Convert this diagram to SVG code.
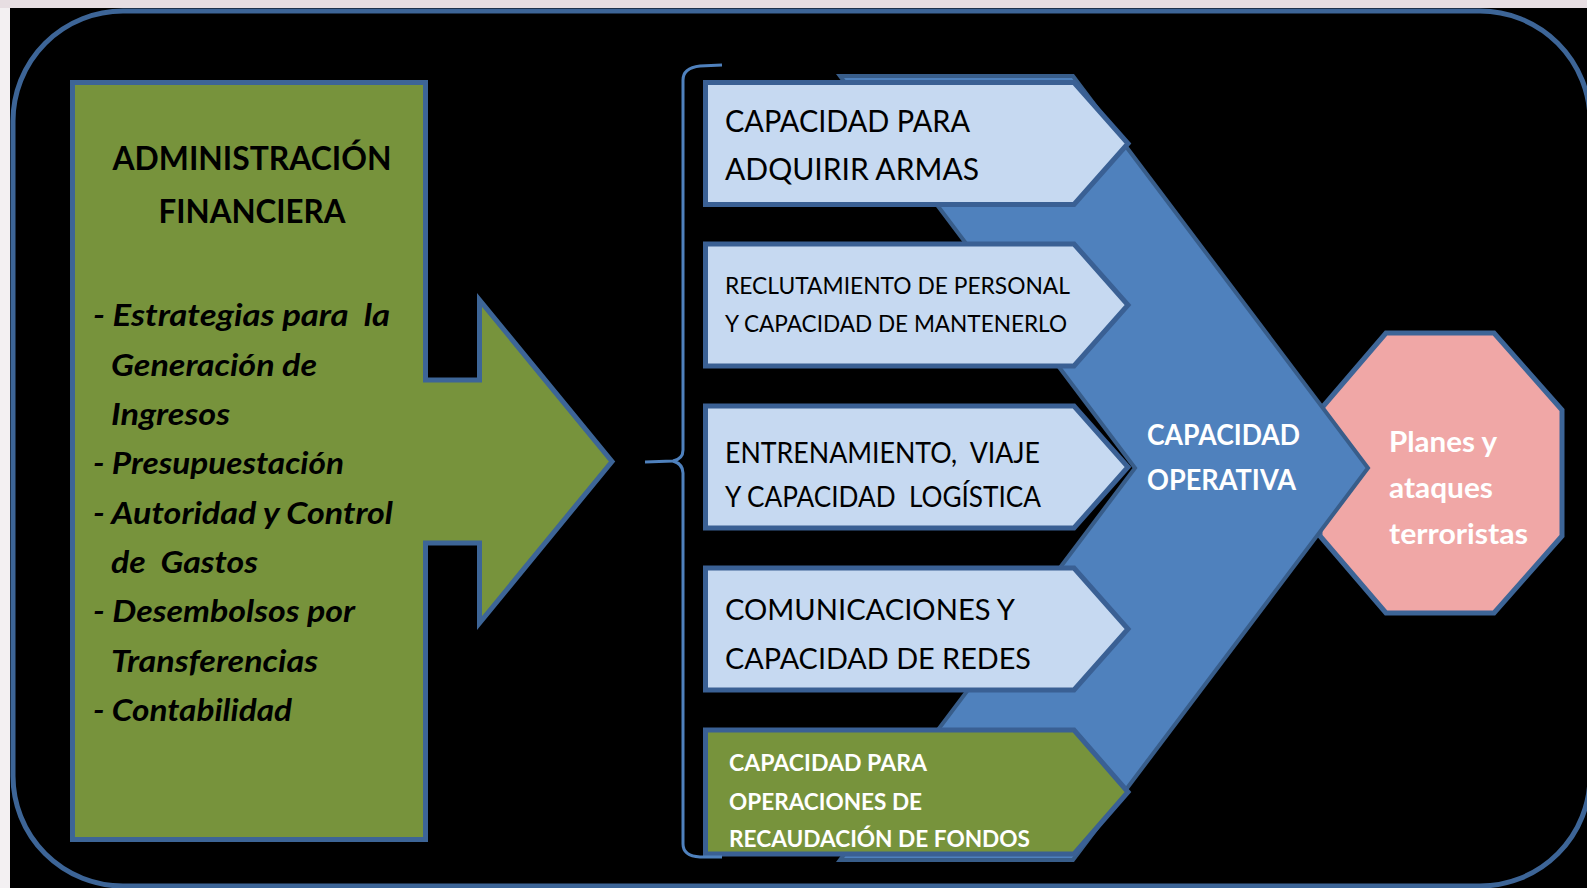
<svg xmlns="http://www.w3.org/2000/svg" width="1587" height="888" viewBox="0 0 1587 888">
<style>
.t{font-family:Lato,"Open Sans","Liberation Sans",sans-serif}
.dark{fill:#000}
.white{fill:#fff}
.pent{fill:#c6d9f1;stroke:#3a6094;stroke-width:5;stroke-linejoin:miter}
.head{font-weight:700;font-size:33px}
.li{font-weight:700;font-style:italic;font-size:31px}
</style>
<rect x="0" y="0" width="1587" height="888" fill="#f3f0f2"/>
<rect x="0" y="0" width="1587" height="8" fill="#e7dee2"/>
<rect x="10" y="8" width="1577" height="880" fill="#000"/>
<rect x="13" y="11" width="1577" height="875" rx="110" ry="110" fill="none" stroke="#3d6597" stroke-width="5"/>

<g id="planes">
<polygon points="1386,333 1494,333 1562,410 1562,536 1494,613 1386,613 1320,536 1320,410" fill="#f0a7a6" stroke="#3d6597" stroke-width="5"/>
<text class="t white" font-weight="700" font-size="29" x="1389" y="452" textLength="108" lengthAdjust="spacingAndGlyphs">Planes y</text>
<text class="t white" font-weight="700" font-size="29" x="1389" y="498" textLength="104" lengthAdjust="spacingAndGlyphs">ataques</text>
<text class="t white" font-weight="700" font-size="29" x="1389" y="543.5" textLength="139" lengthAdjust="spacingAndGlyphs">terroristas</text>
</g>

<g id="capacidad-operativa">
<path d="M840,76 H1073 L1368,468 L1073,860 H840 L1135,468 Z" fill="#4f81bd" stroke="#385d8a" stroke-width="4"/>
<text class="t white" font-weight="700" font-size="28" x="1147" y="445" textLength="153" lengthAdjust="spacingAndGlyphs">CAPACIDAD</text>
<text class="t white" font-weight="700" font-size="28" x="1147" y="490" textLength="149" lengthAdjust="spacingAndGlyphs">OPERATIVA</text>
</g>

<g id="armas">
<path class="pent" d="M705.5,82.5 H1074 L1128,143.5 L1074,204.5 H705.5 Z"/>
<text class="t dark" font-size="30" x="725" y="131.5" textLength="245" lengthAdjust="spacingAndGlyphs">CAPACIDAD PARA</text>
<text class="t dark" font-size="30" x="725" y="180" textLength="254" lengthAdjust="spacingAndGlyphs">ADQUIRIR ARMAS</text>
</g>
<g id="reclutamiento">
<path class="pent" d="M705.5,244 H1074 L1128,305 L1074,366 H705.5 Z"/>
<text class="t dark" font-size="24" x="725" y="293.5" textLength="345" lengthAdjust="spacingAndGlyphs">RECLUTAMIENTO DE PERSONAL</text>
<text class="t dark" font-size="24" x="725" y="332" textLength="342" lengthAdjust="spacingAndGlyphs">Y CAPACIDAD DE MANTENERLO</text>
</g>
<g id="entrenamiento">
<path class="pent" d="M705.5,406 H1074 L1128,467 L1074,528 H705.5 Z"/>
<text class="t dark" font-size="28" x="725" y="462.5" textLength="315" lengthAdjust="spacingAndGlyphs" xml:space="preserve">ENTRENAMIENTO,  VIAJE</text>
<text class="t dark" font-size="28" x="725" y="507" textLength="316" lengthAdjust="spacingAndGlyphs" xml:space="preserve">Y CAPACIDAD  LOGÍSTICA</text>
</g>
<g id="comunicaciones">
<path class="pent" d="M705.5,568 H1074 L1128,629 L1074,690 H705.5 Z"/>
<text class="t dark" font-size="29" x="725" y="619.5" textLength="290" lengthAdjust="spacingAndGlyphs">COMUNICACIONES Y</text>
<text class="t dark" font-size="29" x="725" y="669" textLength="306" lengthAdjust="spacingAndGlyphs">CAPACIDAD DE REDES</text>
</g>
<g id="recaudacion">
<path class="pent" style="fill:#77933c" d="M705.5,730 H1074 L1128,792 L1074,854 H705.5 Z"/>
<text class="t white" font-weight="700" font-size="23.5" x="729" y="771" textLength="198" lengthAdjust="spacingAndGlyphs">CAPACIDAD PARA</text>
<text class="t white" font-weight="700" font-size="23.5" x="729" y="809.5" textLength="193" lengthAdjust="spacingAndGlyphs">OPERACIONES DE</text>
<text class="t white" font-weight="700" font-size="23.5" x="729" y="847" textLength="301" lengthAdjust="spacingAndGlyphs">RECAUDACIÓN DE FONDOS</text>
</g>

<g id="connectors" fill="none" stroke="#4f81bd" stroke-width="3">
<path d="M722,65 L700,66 Q683,68 683,80 V450 Q683,459 673,461 L645,462"/>
<path d="M673,461 Q683,464 683,473 V844 Q683,856 700,857 L722,857"/>
</g>

<g id="administracion">
<path d="M72.5,82.5 H425.5 V380 H479.5 V300 L612,461.5 L479.5,623 V543 H425.5 V839.5 H72.5 Z" fill="#77933c" stroke="#3d6597" stroke-width="5"/>
<text class="t dark head" x="252" y="170" text-anchor="middle" textLength="279" lengthAdjust="spacingAndGlyphs">ADMINISTRACIÓN</text>
<text class="t dark head" x="252" y="222.5" text-anchor="middle" textLength="187" lengthAdjust="spacingAndGlyphs">FINANCIERA</text>
<text class="t dark li" x="93" y="326" textLength="297" lengthAdjust="spacingAndGlyphs" xml:space="preserve">- Estrategias para  la</text>
<text class="t dark li" x="111" y="375.5" textLength="206" lengthAdjust="spacingAndGlyphs">Generación de</text>
<text class="t dark li" x="111" y="425" textLength="119" lengthAdjust="spacingAndGlyphs">Ingresos</text>
<text class="t dark li" x="93" y="474" textLength="251" lengthAdjust="spacingAndGlyphs">- Presupuestación</text>
<text class="t dark li" x="93" y="523.5" textLength="300" lengthAdjust="spacingAndGlyphs">- Autoridad y Control</text>
<text class="t dark li" x="111" y="573" textLength="147" lengthAdjust="spacingAndGlyphs" xml:space="preserve">de  Gastos</text>
<text class="t dark li" x="93" y="622" textLength="262" lengthAdjust="spacingAndGlyphs">- Desembolsos por</text>
<text class="t dark li" x="111" y="671.5" textLength="207" lengthAdjust="spacingAndGlyphs">Transferencias</text>
<text class="t dark li" x="93" y="721" textLength="199" lengthAdjust="spacingAndGlyphs">- Contabilidad</text>
</g>
</svg>
